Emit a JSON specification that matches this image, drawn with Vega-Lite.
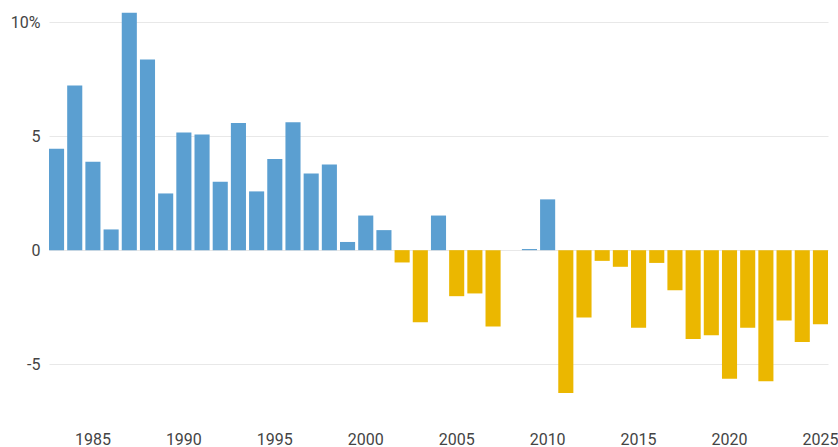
{
  "$schema": "https://vega.github.io/schema/vega-lite/v6.json",
  "width": 779,
  "height": 410,
  "autosize": "none",
  "padding": {"left": 49, "top": 11, "right": 10, "bottom": 26},
  "background": "white",
  "config": {"view": {"stroke": null}, "font": "Roboto"},
  "data": {"values": [
    {"year": 1983, "value": 4.45},
    {"year": 1984, "value": 7.23},
    {"year": 1985, "value": 3.88},
    {"year": 1986, "value": 0.91},
    {"year": 1987, "value": 10.42},
    {"year": 1988, "value": 8.37},
    {"year": 1989, "value": 2.49},
    {"year": 1990, "value": 5.17},
    {"year": 1991, "value": 5.08},
    {"year": 1992, "value": 3.0},
    {"year": 1993, "value": 5.58},
    {"year": 1994, "value": 2.58},
    {"year": 1995, "value": 4.0},
    {"year": 1996, "value": 5.62},
    {"year": 1997, "value": 3.37},
    {"year": 1998, "value": 3.76},
    {"year": 1999, "value": 0.36},
    {"year": 2000, "value": 1.52},
    {"year": 2001, "value": 0.88},
    {"year": 2002, "value": -0.54},
    {"year": 2003, "value": -3.17},
    {"year": 2004, "value": 1.52},
    {"year": 2005, "value": -2.02},
    {"year": 2006, "value": -1.9},
    {"year": 2007, "value": -3.35},
    {"year": 2008, "value": 0},
    {"year": 2009, "value": 0.05},
    {"year": 2010, "value": 2.23},
    {"year": 2011, "value": -6.27},
    {"year": 2012, "value": -2.96},
    {"year": 2013, "value": -0.47},
    {"year": 2014, "value": -0.73},
    {"year": 2015, "value": -3.41},
    {"year": 2016, "value": -0.56},
    {"year": 2017, "value": -1.76},
    {"year": 2018, "value": -3.9},
    {"year": 2019, "value": -3.73},
    {"year": 2020, "value": -5.64},
    {"year": 2021, "value": -3.41},
    {"year": 2022, "value": -5.75},
    {"year": 2023, "value": -3.09},
    {"year": 2024, "value": -4.03},
    {"year": 2025, "value": -3.25}
  ]},
  "mark": {"type": "bar"},
  "encoding": {
    "x": {
      "field": "year", "type": "ordinal",
      "scale": {"paddingInner": 0.17, "paddingOuter": 0},
      "axis": {
        "title": null, "values": [1985, 1990, 1995, 2000, 2005, 2010, 2015, 2020, 2025],
        "labelAngle": 0, "domain": false, "ticks": false, "labelPadding": 10,
        "labelFontSize": 16, "labelColor": "#444444", "labelFont": "Roboto"
      }
    },
    "y": {
      "field": "value", "type": "quantitative",
      "scale": {"domain": [-7.5, 10.5], "nice": false, "zero": true},
      "axis": {
        "title": null, "values": [-5, 0, 5, 10], "domain": false, "ticks": false,
        "labelPadding": 9, "labelFontSize": 16, "labelColor": "#444444", "labelFont": "Roboto",
        "gridColor": "#e8e8e8", "gridWidth": 1,
        "labelExpr": "datum.value == 10 ? '10%' : '' + datum.value"
      }
    },
    "color": {
      "condition": {"test": "datum.value < 0", "value": "#ebb700"},
      "value": "#5b9fd1"
    }
  }
}
